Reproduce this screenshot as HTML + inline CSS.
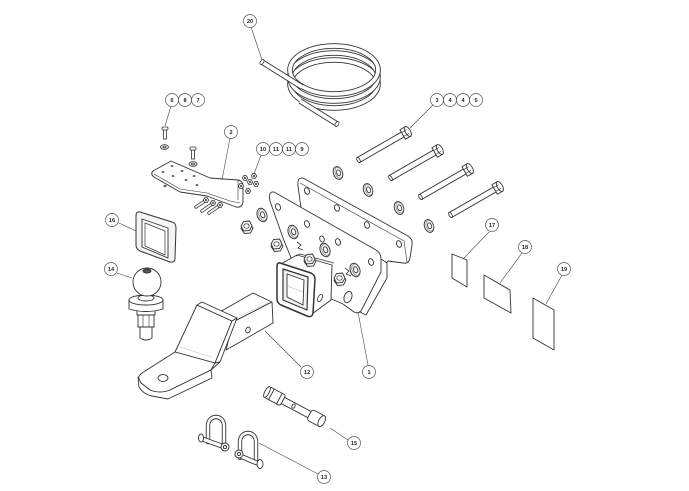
<!DOCTYPE html>
<html><head><meta charset="utf-8"><style>html,body{margin:0;padding:0;background:#fff}svg{display:block}</style></head>
<body>
<svg width="689" height="491" viewBox="0 0 689 491" xmlns="http://www.w3.org/2000/svg" font-family="Liberation Sans, sans-serif">
<rect width="689" height="491" fill="#fff"/>
<defs>
  <g id="bolt">
    <rect x="-56" y="-2.8" width="52" height="5.6" fill="#fff" stroke="#333" stroke-width="0.9"/>
    <ellipse cx="-56" cy="0" rx="1.4" ry="2.8" fill="#fff" stroke="#333" stroke-width="0.9"/>
    <path d="M-5,-5.5 L1,-5.5 L1,5.5 L-5,5.5 Z" fill="#fff" stroke="#333" stroke-width="0.9"/>
    <ellipse cx="1" cy="0" rx="2.6" ry="5.5" fill="#fff" stroke="#333" stroke-width="0.9"/>
    <line x1="-5" y1="-2.2" x2="1" y2="-2.2" stroke="#333" stroke-width="0.6"/>
    <line x1="-5" y1="2.2" x2="1" y2="2.2" stroke="#333" stroke-width="0.6"/>
  </g>
  <g id="washer">
    <ellipse cx="0" cy="0" rx="4.6" ry="6.6" fill="#eee" stroke="#333" stroke-width="0.9"/>
    <ellipse cx="0.8" cy="0" rx="3.6" ry="5.6" fill="none" stroke="#666" stroke-width="0.5"/>
    <ellipse cx="0.6" cy="0" rx="1.9" ry="3" fill="#fff" stroke="#333" stroke-width="0.8"/>
  </g>
  <g id="nut">
    <polygon points="6,1 3.5,6 -2.5,6.5 -6,1.5 -3.5,-3.5 2.5,-4" fill="#fff" stroke="#333" stroke-width="0.9"/>
    <polygon points="5,-1 2.5,3.5 -3.5,4 -6,-1 -3.5,-5.5 2.5,-6" fill="#f2f2f2" stroke="#333" stroke-width="0.9"/>
    <ellipse cx="-0.5" cy="-1" rx="2.6" ry="2.2" fill="#fff" stroke="#333" stroke-width="0.7"/>
  </g>
  <g id="snut">
    <polygon points="2.6,0 1.3,2.3 -1.3,2.3 -2.6,0 -1.3,-2.3 1.3,-2.3" fill="#fff" stroke="#333" stroke-width="0.8"/>
    <circle cx="0" cy="0" r="1" fill="#333"/>
  </g>
</defs>

<!-- ===== Coil (20) ===== -->
<g fill="none" stroke-linecap="butt">
  <ellipse cx="334" cy="84" rx="44" ry="24" stroke="#333" stroke-width="5.6"/>
  <ellipse cx="334" cy="84" rx="44" ry="24" stroke="#fff" stroke-width="3.8"/>
  <ellipse cx="334" cy="77" rx="44" ry="24" stroke="#333" stroke-width="5.6"/>
  <ellipse cx="334" cy="77" rx="44" ry="24" stroke="#fff" stroke-width="3.8"/>
  <ellipse cx="334" cy="70" rx="44" ry="24" stroke="#333" stroke-width="5.6"/>
  <ellipse cx="334" cy="70" rx="44" ry="24" stroke="#fff" stroke-width="3.8"/>
  <path d="M262,62 L302,87" stroke="#333" stroke-width="5.6"/>
  <path d="M262,62 L302,87" stroke="#fff" stroke-width="3.8"/>
  <path d="M300,101 L337,124" stroke="#333" stroke-width="5.6"/>
  <path d="M300,101 L337,124" stroke="#fff" stroke-width="3.8"/>
  <ellipse cx="337" cy="124" rx="1.6" ry="2.8" transform="rotate(32 337 124)" fill="#fff" stroke="#333" stroke-width="0.8"/>
  <ellipse cx="262" cy="62" rx="1.6" ry="2.8" transform="rotate(32 262 62)" fill="#fff" stroke="#333" stroke-width="0.8"/>
</g>

<!-- ===== Long bolts (3,4,5) ===== -->
<use href="#bolt" transform="translate(407,132) rotate(-30)"/>
<use href="#bolt" transform="translate(439,150) rotate(-30)"/>
<use href="#bolt" transform="translate(469,169) rotate(-30)"/>
<use href="#bolt" transform="translate(499,187) rotate(-30)"/>

<use href="#washer" transform="translate(338,173) rotate(-20)"/>
<use href="#washer" transform="translate(368,190) rotate(-20)"/>
<use href="#washer" transform="translate(399,208) rotate(-20)"/>
<use href="#washer" transform="translate(429,226) rotate(-20)"/>

<!-- ===== Plates (1) ===== -->
<g stroke="#333" stroke-width="0.9" stroke-linejoin="round">
  <path d="M303,178 L408,236 Q413,239 412,245 L410,258 Q409,264 403,263 L388,261 L382,268 L370,256 L312,223 Q303,218 301,208 L298,186 Q297,177 303,178 Z" fill="#fff"/>
  <path d="M300,183 L404,241 L407,262" fill="none" stroke-width="0.6"/>
  <g fill="#fff">
    <ellipse cx="307" cy="191" rx="2.4" ry="3.4" transform="rotate(-20 307 191)"/>
    <ellipse cx="337" cy="208" rx="2.4" ry="3.4" transform="rotate(-20 337 208)"/>
    <ellipse cx="367" cy="225" rx="2.4" ry="3.4" transform="rotate(-20 367 225)"/>
    <ellipse cx="399" cy="244" rx="2.4" ry="3.4" transform="rotate(-20 399 244)"/>
  </g>
  <path d="M381,259 L387,263 L387,278 L366,315 L360,312" fill="#fff"/>
  <path d="M274,192 L376,250 Q381,253 381,259 L381,272 L361,311 Q358,314 354,312 L343,304 L318,293 L294,265 L283,238 L270,201 Q268,191 274,192 Z" fill="#fff"/>
  <g fill="#fff">
    <ellipse cx="278" cy="207" rx="2.4" ry="3.4" transform="rotate(-20 278 207)"/>
    <ellipse cx="307" cy="224" rx="2.4" ry="3.4" transform="rotate(-20 307 224)"/>
    <ellipse cx="338" cy="242" rx="2.4" ry="3.4" transform="rotate(-20 338 242)"/>
    <ellipse cx="371" cy="262" rx="2.4" ry="3.4" transform="rotate(-20 371 262)"/>
    <ellipse cx="322" cy="239" rx="2.2" ry="3.2" transform="rotate(-20 322 239)"/>
    <ellipse cx="348" cy="297" rx="3.8" ry="5.8" transform="rotate(20 348 297)"/>
  </g>
</g>

<use href="#washer" transform="translate(262,215) rotate(-20) scale(1.05)"/>
<use href="#washer" transform="translate(293,232) rotate(-20) scale(1.05)"/>
<use href="#washer" transform="translate(325,250) rotate(-20) scale(1.05)"/>
<use href="#washer" transform="translate(355,270) rotate(-20) scale(1.05)"/>
<use href="#nut" transform="translate(247,227)"/>
<use href="#nut" transform="translate(277,245)"/>
<g stroke="#333" stroke-width="0.8" fill="none">
  <path d="M297,242 L301,245 L298,248 L303,250"/>
  <path d="M345,268 L349,271 L346,274 L351,276"/>
</g>

<!-- ===== Receiver ===== -->
<g stroke="#333" stroke-linejoin="round">
  <path d="M279,265 L297,255 L332,265 L331,300 L312,314 Z" fill="#fff" stroke-width="0.9"/>
  <path d="M296,256 L300,254 L334,263" fill="none" stroke-width="0.7"/>
  <ellipse cx="320" cy="298" rx="2" ry="4" transform="rotate(25 320 298)" fill="#fff" stroke-width="0.8"/>
  <path d="M280,263 L311,273 Q315,275 315,279 L313,313 Q312,318 307,316 L281,305 Q277,303 277,299 L277,267 Q277,262 280,263 Z" fill="#fff" stroke-width="1.5"/>
  <path d="M283,269 L308,277 L307,310 L283,300 Z" fill="#f3f3f3" stroke-width="1.2"/>
  <path d="M287,274 L304,280 L303,305 L287,297 Z" fill="#fff" stroke-width="0.9"/>
  <path d="M287,286 L303,292" fill="none" stroke="#aaa" stroke-width="0.5"/>
</g>
<use href="#nut" transform="translate(310,260)"/>
<use href="#nut" transform="translate(340,279)"/>

<!-- ===== Bracket (2) ===== -->
<g stroke="#333" stroke-width="0.9" stroke-linejoin="round">
  <path d="M153,171 L171,161 L210,178 L238,180 Q243,181 243,186 L243,202 Q242,208 236,207 L228,204 L207,196 L180,192 L154,177 Q150,174 153,171 Z" fill="#fff"/>
  <path d="M154,174 L180,189 L207,193 L230,201 L240,203" fill="none" stroke-width="0.6"/>
  <path d="M238,180 L238,200" fill="none" stroke-width="0.6"/>
  <g fill="#666" stroke="none">
    <ellipse cx="163" cy="172" rx="1.4" ry="1"/>
    <ellipse cx="172" cy="166" rx="1.4" ry="1"/>
    <ellipse cx="173" cy="176" rx="1.4" ry="1"/>
    <ellipse cx="182" cy="171" rx="1.4" ry="1"/>
    <ellipse cx="186" cy="180" rx="1.4" ry="1"/>
    <ellipse cx="194" cy="176" rx="1.4" ry="1"/>
    <ellipse cx="197" cy="185" rx="1.4" ry="1"/>
    <ellipse cx="165" cy="186" rx="1.6" ry="1.2"/>
  </g>
</g>
<g stroke="#333" stroke-width="0.8" fill="#fff">
  <rect x="163.5" y="130" width="3" height="9"/>
  <rect x="162" y="127" width="6" height="3" rx="1"/>
  <ellipse cx="164.5" cy="147" rx="4" ry="2.4" fill="#ddd"/>
  <ellipse cx="164.5" cy="147" rx="1.5" ry="0.9"/>
  <rect x="191.5" y="150" width="3" height="9"/>
  <rect x="190" y="147" width="6" height="3" rx="1"/>
  <ellipse cx="193" cy="164" rx="4" ry="2.4" fill="#ddd"/>
  <ellipse cx="193" cy="164" rx="1.5" ry="0.9"/>
</g>
<use href="#snut" transform="translate(241,186)"/>
<use href="#snut" transform="translate(245,178)"/>
<use href="#snut" transform="translate(248,191)"/>
<use href="#snut" transform="translate(250,182)"/>
<use href="#snut" transform="translate(254,176)"/>
<use href="#snut" transform="translate(256,184)"/>
<g stroke-linecap="round">
  <g stroke="#333" stroke-width="3.4">
    <path d="M196,207 L205,201"/><path d="M202,211 L212,204"/><path d="M209,213 L219,206"/>
  </g>
  <g stroke="#fff" stroke-width="1.8">
    <path d="M196,207 L205,201"/><path d="M202,211 L212,204"/><path d="M209,213 L219,206"/>
  </g>
</g>
<use href="#snut" transform="translate(206,200)"/>
<use href="#snut" transform="translate(213,203)"/>
<use href="#snut" transform="translate(220,205)"/>

<!-- ===== Cover (16) ===== -->
<g stroke="#333" stroke-linejoin="round">
  <path d="M140,212 L172,222 Q176,223 176,228 L175,258 Q175,263 170,262 L140,251 Q136,249 136,245 L136,216 Q136,211 140,212 Z" fill="#f4f4f4" stroke-width="1"/>
  <path d="M142,219 L168,228 L168,258 L142,247 Z" fill="#fff" stroke-width="0.9"/>
  <path d="M145,223 L165,231 L165,255 L145,246 Z" fill="#fff" stroke-width="0.7"/>
</g>

<!-- ===== Ball (14) ===== -->
<g stroke="#333" stroke-width="0.9" stroke-linejoin="round">
  <path d="M140,326 L152,326 L152,338 Q146,342 140,338 Z" fill="#fff"/>
  <path d="M138,315 L154,315 L154,327 L138,327 Z" fill="#fff"/>
  <path d="M143,315 L143,327 M149,315 L149,327" fill="none" stroke-width="0.6"/>
  <path d="M137,310 L155,310 L155,315 L137,315 Z" fill="#fff"/>
  <path d="M129,300 L163,300 L163,309 Q146,314 129,309 Z" fill="#fff"/>
  <ellipse cx="146" cy="300" rx="17" ry="5" fill="#fff"/>
  <ellipse cx="146" cy="298" rx="8" ry="3" fill="#fff"/>
  <circle cx="147" cy="282" r="14" fill="#fff"/>
  <ellipse cx="147" cy="271" rx="4" ry="2" fill="#555"/>
</g>

<!-- ===== Ball mount (12) ===== -->
<g stroke="#333" stroke-width="0.9" stroke-linejoin="round" fill="#fff">
  <!-- shank -->
  <path d="M218,313 L253,293 L272,302 L233,322 Z"/>
  <path d="M233,322 L272,302 L273,323 L226,350 Z"/>
  <ellipse cx="248" cy="330" rx="2.2" ry="3" transform="rotate(20 248 330)"/>
  <!-- drop -->
  <path d="M197,305 L232,321 L215,363 L175,352 Z"/>
  <path d="M197,305 L202,302 L237,318 L232,321 Z"/>
  <path d="M232,321 L237,318 L220,362 L215,363 Z"/>
  <!-- platform -->
  <path d="M175,352 L215,363 L211,370 L170,390 Q160,394 150,390 L141,383 Q136,377 142,373 Z"/>
  <path d="M138,377 L139,387 Q143,394 152,396 L168,399 L212,378 L211,370 L170,390 Q160,394 150,390 L141,383 Z"/>
  <path d="M211,370 L220,362" fill="none"/>
  <ellipse cx="163" cy="378" rx="5" ry="3.4"/>
  <path d="M180,347 L212,357" fill="none" stroke="#bbb" stroke-width="0.5"/>
  <path d="M240,316 L268,303" fill="none" stroke="#bbb" stroke-width="0.5"/>
</g>

<!-- ===== Labels (17,18,19) ===== -->
<g stroke="#333" stroke-width="0.9" fill="#fff" stroke-linejoin="round">
  <path d="M452,254 L467,260 L467,287 L452,278 Z"/>
  <path d="M484,275 L510,290 L511,313 L484,298 Z"/>
  <path d="M533,298 L554,310 L554,350 L533,338 Z"/>
</g>

<!-- ===== Pin (15) ===== -->
<g transform="translate(267,392) rotate(28)" stroke="#333" stroke-width="0.9" fill="#fff">
  <rect x="18" y="-3.5" width="34" height="7"/>
  <rect x="0" y="-6" width="18" height="12" rx="2"/>
  <ellipse cx="0" cy="0" rx="2.2" ry="6"/>
  <line x1="5" y1="-6" x2="5" y2="6"/>
  <line x1="14" y1="-6" x2="14" y2="6"/>
  <rect x="48" y="-6" width="14" height="12" rx="3"/>
  <ellipse cx="62" cy="0" rx="3" ry="6"/>
  <ellipse cx="30" cy="0" rx="1.5" ry="2.2"/>
</g>

<!-- ===== Shackles (13) ===== -->
<g fill="none" stroke-linecap="round">
  <g stroke="#333" stroke-width="4.4">
    <path d="M208,442 L208,426 C208,414 224,414 224,426 L224,446"/>
    <path d="M240,458 L240,442 C240,430 256,430 256,442 L256,460"/>
  </g>
  <g stroke="#fff" stroke-width="2.6">
    <path d="M208,442 L208,426 C208,414 224,414 224,426 L224,446"/>
    <path d="M240,458 L240,442 C240,430 256,430 256,442 L256,460"/>
  </g>
</g>
<g stroke="#333" stroke-width="0.9" fill="#fff">
  <path d="M200,436 L228,446 L227,450 L199,440 Z"/>
  <ellipse cx="201" cy="438" rx="2.5" ry="4"/>
  <circle cx="225" cy="447" r="4"/>
  <circle cx="225" cy="447" r="1.6"/>
  <path d="M236,452 L262,463 L261,467 L235,456 Z"/>
  <circle cx="239" cy="454" r="4"/>
  <circle cx="239" cy="454" r="1.6"/>
  <ellipse cx="260" cy="464" rx="3" ry="4.5"/>
</g>

<!-- ===== Leader lines ===== -->
<g stroke="#444" stroke-width="0.6" fill="none">
  <path d="M251,27 L262,60"/>
  <path d="M171,106 L165,126"/>
  <path d="M230,138 L222,180"/>
  <path d="M433,105 L410,128"/>
  <path d="M261,155 L254,174"/>
  <path d="M119,223 L136,231"/>
  <path d="M117,273 L132,278"/>
  <path d="M489,232 L463,259"/>
  <path d="M522,253 L500,283"/>
  <path d="M562,275 L546,304"/>
  <path d="M301,367 L265,331"/>
  <path d="M368,365 L358,312"/>
  <path d="M348,440 L330,428"/>
  <path d="M318,474 L259,443"/>
</g>

<!-- ===== Callouts ===== -->
<g stroke="#555" stroke-width="0.7" fill="#fff">
  <circle cx="250" cy="21" r="6.5"/>
  <circle cx="172" cy="100" r="6.5"/><circle cx="185" cy="100" r="6.5"/><circle cx="198" cy="100" r="6.5"/>
  <circle cx="231" cy="132" r="6.5"/>
  <circle cx="437" cy="100" r="6.5"/><circle cx="450" cy="100" r="6.5"/><circle cx="463" cy="100" r="6.5"/><circle cx="476" cy="100" r="6.5"/>
  <circle cx="263" cy="149" r="6.5"/><circle cx="276" cy="149" r="6.5"/><circle cx="289" cy="149" r="6.5"/><circle cx="302" cy="149" r="6.5"/>
  <circle cx="112" cy="220" r="6.5"/>
  <circle cx="111" cy="269" r="6.5"/>
  <circle cx="492" cy="225" r="6.5"/>
  <circle cx="525" cy="247" r="6.5"/>
  <circle cx="564" cy="269" r="6.5"/>
  <circle cx="307" cy="372" r="6.5"/>
  <circle cx="369" cy="372" r="6.5"/>
  <circle cx="354" cy="443" r="6.5"/>
  <circle cx="324" cy="477" r="6.5"/>
</g>
<g fill="#222" font-size="5.6" font-weight="bold" text-anchor="middle">
  <text x="250" y="23">20</text>
  <text x="172" y="102">6</text><text x="185" y="102">8</text><text x="198" y="102">7</text>
  <text x="231" y="134">2</text>
  <text x="437" y="102">3</text><text x="450" y="102">4</text><text x="463" y="102">4</text><text x="476" y="102">5</text>
  <text x="263" y="151">10</text><text x="276" y="151">11</text><text x="289" y="151">11</text><text x="302" y="151">9</text>
  <text x="112" y="222">16</text>
  <text x="111" y="271">14</text>
  <text x="492" y="227">17</text>
  <text x="525" y="249">18</text>
  <text x="564" y="271">19</text>
  <text x="307" y="374">12</text>
  <text x="369" y="374">1</text>
  <text x="354" y="445">15</text>
  <text x="324" y="479">13</text>
</g>
</svg>
</body></html>
